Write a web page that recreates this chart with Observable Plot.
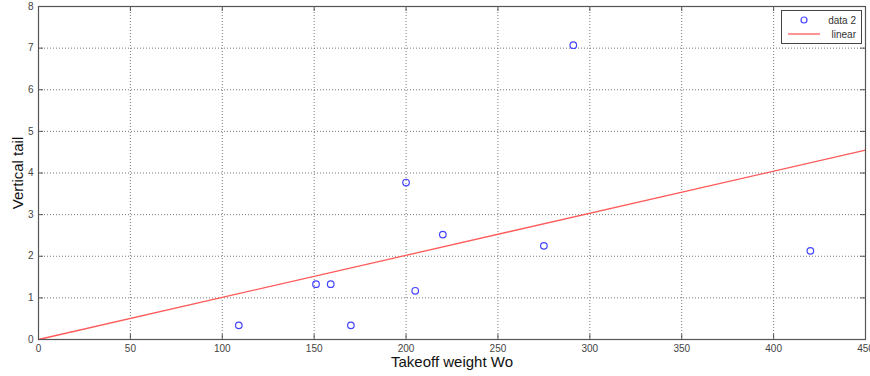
<!DOCTYPE html>
<html>
<head>
<meta charset="utf-8">
<script src="https://cdn.jsdelivr.net/npm/d3@7"></script>
<script src="https://cdn.jsdelivr.net/npm/@observablehq/plot@0.6"></script>
<style>
  html, body { margin: 0; padding: 0; background: #fff; }
  #wrap { position: relative; width: 870px; height: 376px; font-family: "Liberation Sans", Arial, sans-serif; }
  #legend { position: absolute; left: 781px; top: 10px; width: 79px; height: 32px; border: 1px solid #444; background: #fff; font-size: 10px; color: #333; }
</style>
</head>
<body>
<div id="wrap"></div>
<script>
const weights = [109, 151, 159, 170, 200, 205, 220, 275, 291, 420];
const tails   = [0.34, 1.33, 1.33, 0.34, 3.77, 1.17, 2.52, 2.25, 7.07, 2.13];
const fitX = [0, 450];
const fitY = [0, 4.55];
const xTicks = [0, 50, 100, 150, 200, 250, 300, 350, 400, 450];
const yTicks = [0, 1, 2, 3, 4, 5, 6, 7, 8];
const seriesNames = ["data 2", "linear"];
const xTitle = "Takeoff weight Wo";
const yTitle = "Vertical tail";

const points = weights.map((w, i) => ({w, t: tails[i]}));
const fit = fitX.map((x, i) => ({x, y: fitY[i]}));

const chart = Plot.plot({
  width: 870,
  height: 376,
  marginLeft: 38,
  marginRight: 5,
  marginTop: 6,
  marginBottom: 37,
  style: {background: "#fff", fontFamily: "Liberation Sans, Arial, sans-serif"},
  x: {domain: [0, 450], ticks: xTicks},
  y: {domain: [0, 8], ticks: yTicks},
  marks: [
    Plot.gridX(xTicks, {stroke: "#777", strokeOpacity: 1, strokeDasharray: "1,2", strokeWidth: 1}),
    Plot.gridY(yTicks, {stroke: "#777", strokeOpacity: 1, strokeDasharray: "1,2", strokeWidth: 1}),
    Plot.ruleX(xTicks, {x: d => d, y1: 0, y2: 0.12, stroke: "#555"}),
    Plot.ruleX(xTicks, {x: d => d, y1: 8, y2: 7.88, stroke: "#555"}),
    Plot.ruleY(yTicks, {y: d => d, x1: 0, x2: 2.7, stroke: "#555"}),
    Plot.ruleY(yTicks, {y: d => d, x1: 450, x2: 447.3, stroke: "#555"}),
    Plot.axisX(xTicks, {tickSize: 0, tickPadding: 5, fontSize: 10, fill: "#444", label: null}),
    Plot.axisY(yTicks, {tickSize: 0, tickPadding: 5, fontSize: 10, fill: "#444", label: null}),
    Plot.text([xTitle], {frameAnchor: "bottom", text: d => d, dy: 23, textAnchor: "middle", lineAnchor: "middle", fontSize: 15, fill: "#111"}),
    Plot.text([yTitle], {frameAnchor: "left", text: d => d, dx: -20, rotate: -90, textAnchor: "middle", lineAnchor: "middle", fontSize: 15, fill: "#111"}),
    Plot.line(fit, {x: "x", y: "y", stroke: "#ff5a5a", strokeWidth: 1.3}),
    Plot.dot(points, {x: "w", y: "t", r: 3.3, stroke: "#4444ff", strokeWidth: 1.2, fill: "none"}),
    Plot.frame({stroke: "#555", strokeWidth: 1.2})
  ]
});
chart.style.display = "block";
const wrap = document.getElementById("wrap");
wrap.appendChild(chart);

const legend = document.createElement("div");
legend.id = "legend";
legend.innerHTML = `
<svg width="79" height="32" style="position:absolute;left:0;top:0">
  <circle cx="22" cy="9" r="3" fill="none" stroke="#4444ff" stroke-width="1.2"></circle>
  <text x="74" y="12.5" text-anchor="end" font-size="10" fill="#333">${seriesNames[0]}</text>
  <line x1="6" y1="23" x2="38" y2="23" stroke="#ff5a5a" stroke-width="1.3"></line>
  <text x="74" y="26.5" text-anchor="end" font-size="10" fill="#333">${seriesNames[1]}</text>
</svg>`;
wrap.appendChild(legend);
</script>
</body>
</html>
